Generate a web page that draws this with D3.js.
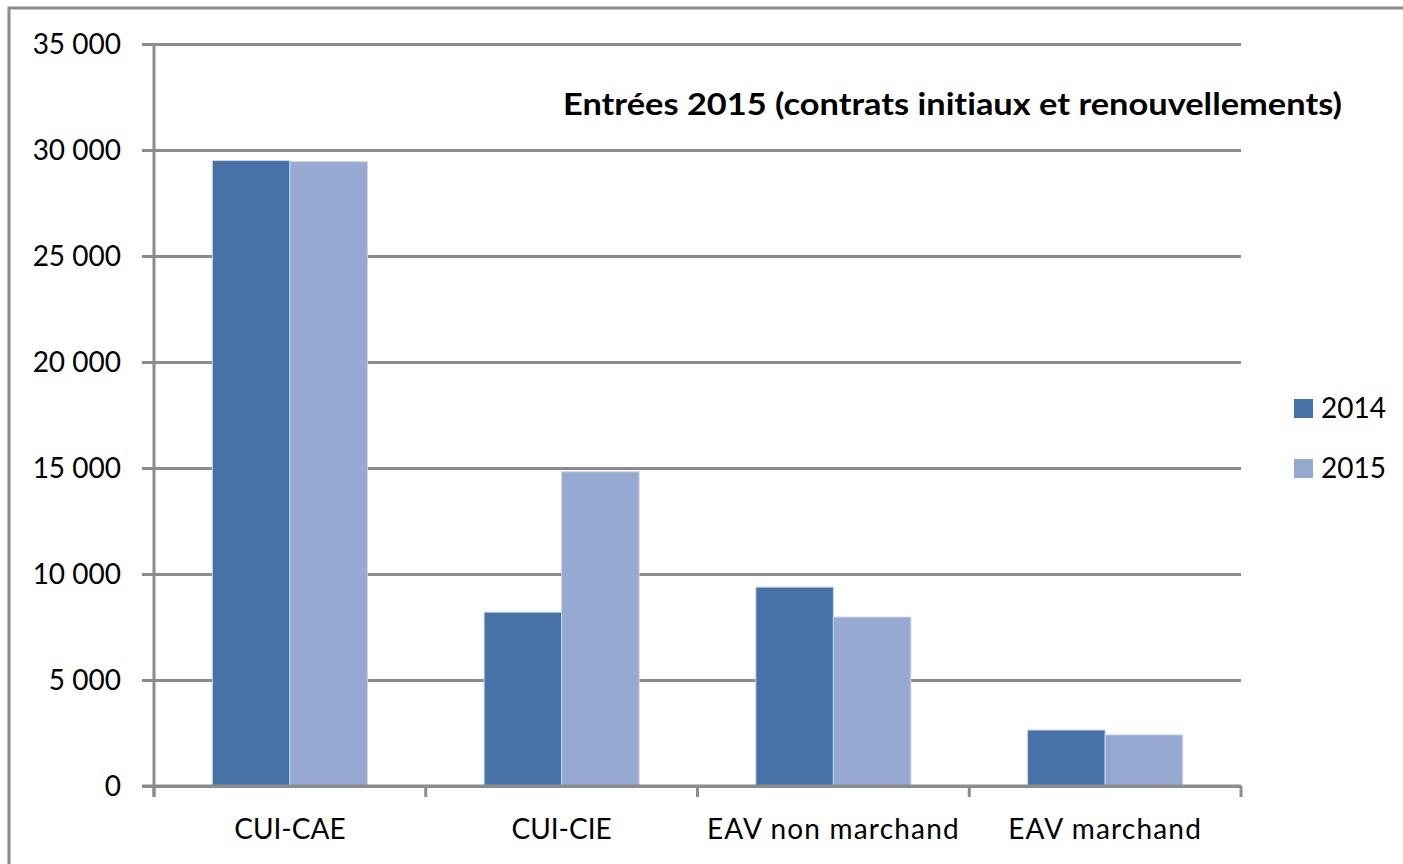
<!DOCTYPE html>
<html>
<head>
<meta charset="utf-8">
<script src="https://d3js.org/d3.v7.min.js"></script>
<style>
body {margin: 0; background: white;}
text {font-family: Lato, "Open Sans", sans-serif; fill: #000; font-variant-ligatures: none;}
</style>
</head>
<body>
<svg width="1403" height="864"></svg>
<script>
// data
var categories = ["CUI-CAE", "CUI-CIE", "EAV non marchand", "EAV marchand"];
var years = ["2014", "2015"];
var values2014 = [29500, 8200, 9380, 2640];
var values2015 = [29450, 14820, 7970, 2410];
var yTicks = [0, 5000, 10000, 15000, 20000, 25000, 30000, 35000];
var title = "Entrées 2015 (contrats initiaux et renouvellements)";

var colors = {"2014": "#4672a7", "2015": "#95a9d1"};
var grey = "#8c8c8c";

var svg = d3.select("svg");

// frame of the chart object (partly cut off at the top)
svg.append("path")
    .attr("d", "M9,864 V8 H1403")
    .attr("fill", "none")
    .attr("stroke", grey)
    .attr("stroke-width", 3);

// scales
var pLeft = 154, pRight = 1241, pTop = 44, pBottom = 786;
var x = d3.scaleBand().domain(categories).range([pLeft, pRight]).padding(0);
var xs = d3.scaleBand().domain(years).range([0, x.bandwidth()]).paddingInner(0).paddingOuter(0.753);
var y = d3.scaleLinear().domain([0, 35000]).range([pBottom, pTop]);

var fmt = function(d) {return d3.format(",")(d).replace(/,/g, " ");};

// gridlines + y axis labels
var yAxis = d3.axisLeft(y).tickValues(yTicks).tickSize(-(pRight - pLeft)).tickSizeOuter(0).tickFormat(fmt);
var gy = svg.append("g").attr("transform", "translate(" + pLeft + ",0)").call(yAxis);
gy.select(".domain").remove();
gy.selectAll(".tick line")
    .attr("x1", -12)
    .attr("stroke", grey)
    .attr("stroke-width", 3);
gy.selectAll(".tick text")
    .attr("x", -33)
    .attr("dy", "0.34em")
    .style("font-size", "28px")
    .style("font-family", "Lato, sans-serif")
    .attr("fill", "#000");

// bars
var rows = categories.map(function(c, i) {
    return {cat: c, vals: [{year: "2014", v: values2014[i]}, {year: "2015", v: values2015[i]}]};
});
svg.append("g")
    .selectAll("g")
    .data(rows)
    .enter()
    .append("g")
    .attr("transform", function(d) {return "translate(" + x(d.cat) + ",0)";})
    .selectAll("rect")
    .data(function(d) {return d.vals;})
    .enter()
    .append("rect")
    .attr("x", function(d) {return xs(d.year);})
    .attr("width", xs.bandwidth())
    .attr("y", function(d) {return y(d.v);})
    .attr("height", function(d) {return pBottom - y(d.v);})
    .attr("fill", function(d) {return colors[d.year];})
    .attr("stroke", "#c8d4ea")
    .attr("stroke-width", 1);

// y axis line
svg.append("line")
    .attr("x1", pLeft).attr("x2", pLeft)
    .attr("y1", pTop).attr("y2", pBottom + 11)
    .attr("stroke", grey).attr("stroke-width", 3);

// x axis
var bounds = categories.map(function(c) {return x(c);}).concat([pRight]);
svg.append("line")
    .attr("x1", pLeft - 12).attr("x2", pRight)
    .attr("y1", pBottom).attr("y2", pBottom)
    .attr("stroke", grey).attr("stroke-width", 3);
svg.selectAll(".xtick")
    .data(bounds)
    .enter()
    .append("line")
    .attr("x1", function(d) {return d;})
    .attr("x2", function(d) {return d;})
    .attr("y1", pBottom).attr("y2", pBottom + 11)
    .attr("stroke", grey).attr("stroke-width", 3);
svg.selectAll(".xlab")
    .data(categories)
    .enter()
    .append("text")
    .attr("x", function(d) {return x(d) + x.bandwidth() / 2;})
    .attr("y", 839)
    .attr("text-anchor", "middle")
    .style("font-size", "28px")
    .style("letter-spacing", function(d) {return d.indexOf("marchand") >= 0 ? "1.2px" : "0px";})
    .text(function(d) {return d;});

// title
svg.append("text")
    .attr("x", 563)
    .attr("y", 115)
    .attr("textLength", 779)
    .attr("lengthAdjust", "spacingAndGlyphs")
    .style("font-size", "30px")
    .style("font-weight", "bold")
    .text(title);

// legend
var leg = svg.selectAll(".leg")
    .data(years)
    .enter()
    .append("g")
    .attr("transform", function(d, i) {return "translate(1294," + (399 + i * 60) + ")";});
leg.append("rect")
    .attr("width", 19).attr("height", 19)
    .attr("fill", function(d) {return colors[d];});
leg.append("text")
    .attr("x", 27).attr("y", 19)
    .style("font-size", "28px")
    .text(function(d) {return d;});
</script>
</body>
</html>
